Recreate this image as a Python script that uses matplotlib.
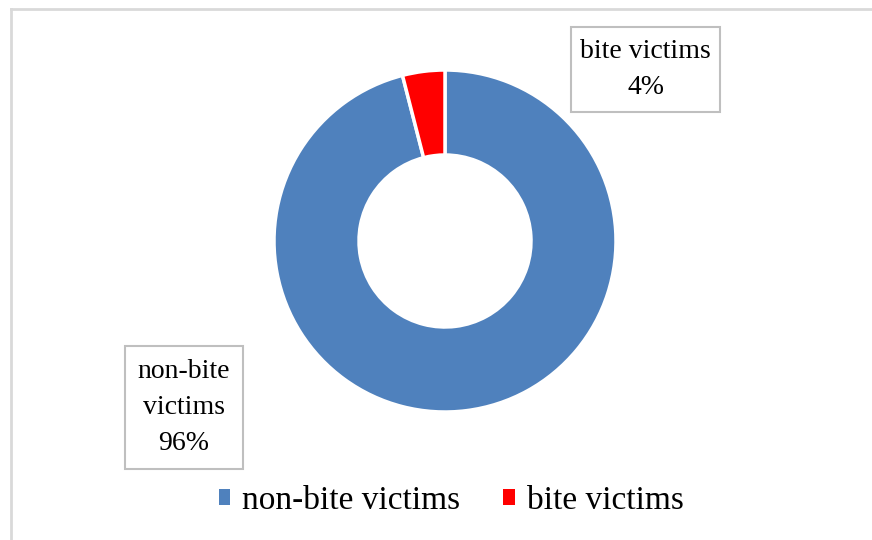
import matplotlib.pyplot as plt
from matplotlib.patches import Patch, Rectangle
from matplotlib.lines import Line2D

labels = ["non-bite victims", "bite victims"]
values = [96, 4]
colors = ["#4F81BD", "#FF0000"]
box_texts = ["non-bite\nvictims\n96%", "bite victims\n4%"]

W, H = 872, 540
fig = plt.figure(figsize=(W / 100, H / 100), dpi=100)
ax = fig.add_axes([0, 0, 1, 1])

ax.pie(values, colors=colors, startangle=90, counterclock=False,
       center=(445, H - 241), radius=171,
       wedgeprops=dict(width=85, edgecolor="white", linewidth=2.5))
ax.set_aspect("auto")
ax.set_xlim(0, W)
ax.set_ylim(0, H)
ax.axis("off")

# label boxes (x0, y0 top, w, h in px)
boxes = [(125, 346, 118, 123), (571, 27, 149, 85)]
for (x0, y0, bw, bh), txt in zip(boxes, box_texts):
    ax.add_patch(Rectangle((x0, H - y0 - bh), bw, bh, facecolor="white",
                           edgecolor="#BFBFBF", linewidth=1.5))
    ax.text(x0 + bw / 2, H - y0 - bh / 2, txt, ha="center", va="center",
            fontsize=20, family="Liberation Serif", linespacing=1.6,
            color="black")

# outer frame (top and left edges visible)
ax.add_line(Line2D([11, W], [H - 9, H - 9], color="#D9D9D9", linewidth=2))
ax.add_line(Line2D([11, 11], [0, H - 9], color="#D9D9D9", linewidth=2))

handles = [Patch(facecolor=c, edgecolor="none") for c in colors]
fig.legend(handles, labels, loc="center", bbox_to_anchor=(451 / W, 1 - 501 / H),
           ncol=2, frameon=False, prop={"family": "Liberation Serif", "size": 24},
           handlelength=0.35, handleheight=0.35, handletextpad=0.35,
           columnspacing=1.3)

fig.savefig("out.png", dpi=100)
